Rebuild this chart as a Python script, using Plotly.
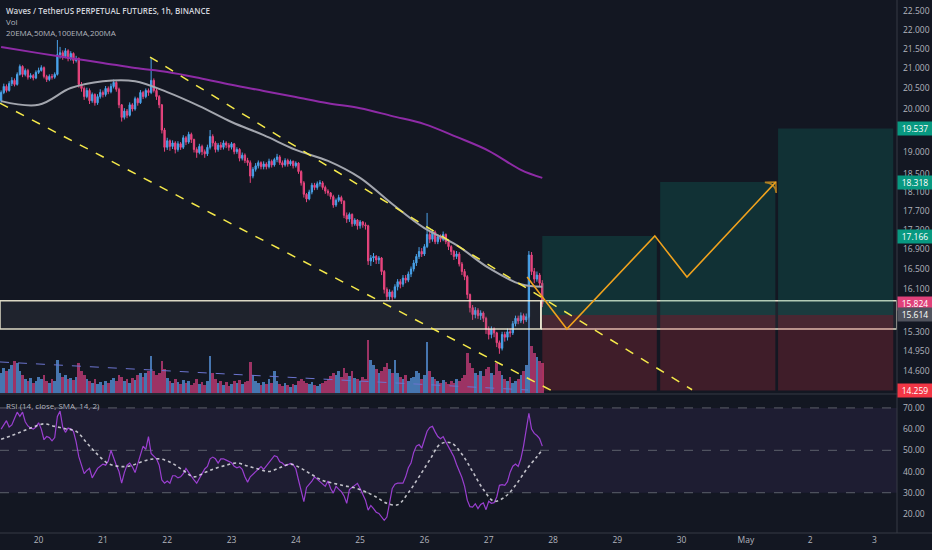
import math
import pandas as pd
import plotly.graph_objects as go

# ---- data (Waves/USDT perp, 1h) ----
start_time = "2021-04-19 10:00"
first_open = 20.20

closes = [
    20.40, 20.55, 20.45, 20.62, 20.70, 20.60, 20.85, 21.05, 20.85, 20.95,
    20.78, 20.82, 20.76, 20.90, 20.95, 21.02, 20.80, 20.72, 20.80, 20.78,
    20.85, 21.35, 21.40, 21.30, 21.45, 21.25, 21.38, 21.20, 21.25, 20.60,
    20.50, 20.30, 20.45, 20.20, 20.35, 20.15, 20.30, 20.40, 20.35, 20.50,
    20.42, 20.55, 20.65, 20.48, 20.10, 19.80, 19.95, 19.85, 20.10, 20.00,
    20.25, 20.15, 20.40, 20.30, 20.45, 20.40, 20.70, 20.45, 20.30, 20.10,
    19.50, 19.10, 19.25, 19.12, 19.20, 19.05, 19.18, 19.10, 19.32, 19.22,
    19.40, 19.28, 19.05, 18.98, 19.12, 19.00, 18.95, 19.10, 19.35, 19.20,
    19.05, 19.15, 19.10, 19.20, 19.15, 19.10, 19.18, 19.00, 19.05, 18.85,
    18.92, 18.80, 18.75, 18.45, 18.60, 18.68, 18.75, 18.66, 18.72, 18.66,
    18.78, 18.70, 18.82, 18.88, 18.75, 18.70, 18.80, 18.72, 18.78, 18.68,
    18.74, 18.55, 18.30, 18.05, 17.95, 18.10, 18.25, 18.20, 18.28, 18.30,
    18.20, 18.12, 18.08, 18.00, 17.82, 17.92, 17.98, 17.90, 17.60, 17.52,
    17.62, 17.42, 17.50, 17.38, 17.46, 17.40, 17.38, 16.66, 16.72, 16.75,
    16.68, 16.72, 16.45, 16.10, 15.96, 16.05, 15.95, 16.15, 16.25, 16.20,
    16.32, 16.28, 16.40, 16.50, 16.62, 16.75, 16.85, 16.80, 16.95, 17.20,
    17.10, 17.25, 17.05, 17.15, 17.10, 17.20, 17.05, 16.95, 16.85, 16.75,
    16.80, 16.60, 16.45, 16.35, 16.00, 15.75, 15.62, 15.70, 15.60, 15.65,
    15.55, 15.35, 15.25, 15.35, 15.28, 15.10, 15.00, 15.25, 15.20, 15.30,
    15.28, 15.45, 15.55, 15.50, 15.60, 15.52, 15.58, 16.78, 16.45, 16.30,
    16.38, 16.22, 15.824,
]
highs = [
    20.45, 20.62, 20.60, 20.68, 20.78, 20.75, 20.90, 21.10, 21.08, 21.00,
    20.99, 20.88, 20.86, 20.95, 21.02, 21.08, 21.05, 20.84, 20.85, 20.86,
    20.90, 21.73, 21.55, 21.46, 21.52, 21.49, 21.44, 21.41, 21.32, 21.28,
    20.66, 20.55, 20.52, 20.50, 20.40, 20.38, 20.36, 20.48, 20.45, 20.56,
    20.55, 20.62, 20.72, 20.68, 20.52, 20.12, 20.02, 20.00, 20.16, 20.14,
    20.30, 20.28, 20.46, 20.44, 20.50, 20.50, 21.27, 20.75, 20.50, 20.34,
    20.12, 19.55, 19.32, 19.28, 19.26, 19.24, 19.24, 19.22, 19.38, 19.36,
    19.46, 19.44, 19.30, 19.10, 19.18, 19.16, 19.05, 19.16, 19.50, 19.40,
    19.24, 19.20, 19.22, 19.26, 19.24, 19.20, 19.22, 19.20, 19.10, 19.08,
    18.98, 18.96, 18.86, 18.80, 18.65, 18.74, 18.80, 18.78, 18.78, 18.76,
    18.84, 18.82, 18.86, 18.95, 18.92, 18.80, 18.85, 18.84, 18.82, 18.80,
    18.78, 18.76, 18.58, 18.34, 18.08, 18.15, 18.30, 18.30, 18.33, 18.36,
    18.34, 18.24, 18.16, 18.10, 18.04, 17.96, 18.04, 18.02, 17.92, 17.66,
    17.66, 17.64, 17.54, 17.52, 17.50, 17.48, 17.45, 17.40, 16.78, 16.82,
    16.78, 16.76, 16.74, 16.48, 16.14, 16.10, 16.08, 16.20, 16.30, 16.30,
    16.38, 16.38, 16.45, 16.55, 16.68, 16.80, 16.94, 16.92, 17.00, 17.65,
    17.26, 17.30, 17.28, 17.20, 17.20, 17.26, 17.22, 17.08, 16.98, 16.88,
    16.86, 16.84, 16.64, 16.50, 16.38, 16.02, 15.80, 15.76, 15.74, 15.70,
    15.68, 15.58, 15.40, 15.40, 15.38, 15.30, 15.14, 15.30, 15.30, 15.36,
    15.36, 15.50, 15.60, 15.60, 15.66, 15.64, 15.64, 16.86, 16.84, 16.52,
    16.45, 16.42, 16.28,
]
lows = [
    20.15, 20.36, 20.40, 20.42, 20.56, 20.55, 20.57, 20.82, 20.78, 20.80,
    20.72, 20.74, 20.70, 20.73, 20.86, 20.92, 20.75, 20.66, 20.68, 20.72,
    20.74, 20.82, 21.25, 21.22, 21.26, 21.18, 21.20, 21.12, 21.15, 20.52,
    20.42, 20.22, 20.26, 20.12, 20.15, 20.08, 20.10, 20.25, 20.28, 20.30,
    20.36, 20.38, 20.50, 20.42, 20.02, 19.70, 19.75, 19.78, 19.82, 19.94,
    19.96, 20.08, 20.12, 20.24, 20.26, 20.32, 20.36, 20.40, 20.22, 20.02,
    19.42, 19.00, 19.04, 19.02, 19.06, 18.96, 19.00, 19.04, 19.06, 19.15,
    19.18, 19.20, 18.98, 18.86, 18.94, 18.92, 18.86, 18.90, 19.05, 19.12,
    18.98, 19.00, 19.04, 19.05, 19.08, 19.02, 19.05, 18.94, 18.95, 18.78,
    18.80, 18.74, 18.68, 18.30, 18.40, 18.55, 18.62, 18.60, 18.60, 18.60,
    18.62, 18.64, 18.66, 18.76, 18.70, 18.64, 18.66, 18.66, 18.68, 18.62,
    18.64, 18.50, 18.24, 17.98, 17.88, 17.92, 18.05, 18.14, 18.15, 18.22,
    18.15, 18.06, 18.02, 17.94, 17.76, 17.78, 17.88, 17.84, 17.54, 17.44,
    17.46, 17.36, 17.38, 17.30, 17.32, 17.34, 17.30, 16.58, 16.56, 16.64,
    16.60, 16.60, 16.38, 16.02, 15.88, 15.90, 15.88, 15.92, 16.08, 16.12,
    16.15, 16.22, 16.24, 16.34, 16.45, 16.56, 16.70, 16.74, 16.76, 16.92,
    17.02, 17.05, 17.00, 17.00, 17.04, 17.06, 17.00, 16.88, 16.78, 16.68,
    16.70, 16.55, 16.38, 16.28, 15.92, 15.66, 15.52, 15.55, 15.54, 15.52,
    15.48, 15.26, 15.16, 15.18, 15.20, 15.02, 14.90, 14.96, 15.12, 15.14,
    15.20, 15.24, 15.40, 15.44, 15.46, 15.45, 15.48, 15.55, 16.38, 16.22,
    16.25, 16.16, 15.76,
]
volumes = [
    20, 25, 22, 24, 28, 32, 30, 22, 18, 14,
    12, 15, 10, 12, 16, 14, 18, 12, 10, 14,
    12, 33, 20, 16, 18, 14, 15, 13, 16, 30,
    22, 18, 14, 12, 10, 14, 9, 11, 8, 12,
    10, 13, 15, 12, 18, 16, 12, 14, 10, 15,
    13, 18, 20, 16, 20, 22, 37, 22, 18, 20,
    32, 24, 15, 12, 10, 14, 11, 9, 13, 10,
    12, 8, 10, 14, 9, 11, 8, 12, 37, 20,
    14, 10, 12, 8, 11, 7, 9, 12, 10, 13,
    9, 11, 12, 31, 18, 12, 10, 8, 11, 9,
    14, 10, 22, 12, 9, 7, 10, 8, 6, 9,
    8, 12, 14, 12, 10, 9, 11, 8, 7, 9,
    10, 12, 14, 17, 20, 18, 22, 16, 25, 20,
    17, 22, 15, 14, 12, 16, 14, 53, 33, 28,
    24, 20, 22, 26, 30, 24, 20, 33, 20, 16,
    14, 18, 12, 15, 16, 22, 20, 14, 18, 51,
    22, 16, 14, 12, 10, 13, 11, 9, 12, 10,
    14, 12, 15, 18, 40, 30, 25, 20, 18, 22,
    17, 24, 26, 20, 18, 30, 22, 18, 14, 12,
    16, 10, 12, 14, 18, 22, 28, 90, 47, 40,
    36, 32, 30,
]
rsi = [
    60, 62, 64, 61, 62, 65, 68, 66, 68, 63.5,
    61.5, 60.5, 60, 61, 63, 60, 55, 56.5, 56, 54.5,
    56, 66, 68.5, 61, 58.5, 60.5, 60, 59, 54, 47,
    42.5, 39, 40.5, 41.5, 37, 39.5, 41.5, 42.5, 43.5, 43,
    45, 50, 46, 43, 40, 34.5, 39.5, 43, 44, 42.2,
    39.5, 44, 48.5, 52, 50.5, 56.5, 48.5, 47, 46, 43,
    36, 34.5, 35.5, 34.5, 38, 38, 37, 37.5, 39, 41.5,
    39.5, 37.7, 36, 34.5, 37, 39, 41.2, 42.4, 46, 46.8,
    46, 44, 46, 46, 45.4, 44.8, 44.2, 42.5, 41.8, 42.3,
    41, 37.5, 35, 37.5, 38.6, 40, 41.2, 42.3, 41, 42.5,
    44.5, 45.6, 47.5, 47, 44.6, 44, 42.7, 43.2, 43.8, 43.2,
    41.3, 36, 30.5, 25.8, 32.5, 33.8, 35.5, 37.5, 36.3, 35.2,
    34, 33, 35.5, 32, 29.8, 33, 31.7, 30.5, 28.5, 25,
    31.5, 32.5, 33.5, 34.4, 32, 29.5, 26.5, 21.8, 24, 22.5,
    20.8, 20.2, 18.3, 17, 18.5, 25, 32, 34, 34.5, 34.5,
    34.5, 37.5, 41.8, 44, 49, 52, 52.7, 51, 55.5, 59,
    60.8, 61.3, 58.7, 56.5, 55.5, 56.5, 54, 51.8, 49.3, 47,
    43.3, 40.5, 37.2, 33, 26.5, 23.4, 23.2, 24.8, 22.5, 24.5,
    25.2, 22, 26, 25, 25.3, 28, 33.5, 33.8, 33.5, 35.2,
    39.7, 42.5, 43.5, 42.4, 46, 52, 60, 67.5, 60, 58,
    57, 55.5, 52,
]
# RSI smoothing line, read every 4th bar plus the last bar
rsi_sma = [
    55.2, 57, 59, 61, 62.5, 61.3, 60.2, 59, 53.5, 48,
    43.8, 42.4, 42.6, 44.4, 45.8, 45.8, 43.8, 40.5, 37.5, 39.5,
    41.5, 43, 44, 42.6, 41.2, 40, 41.8, 43.5, 41.5, 38.5,
    35.8, 34.5, 33.3, 32.3, 30.5, 28, 25, 24.3, 30, 37.5,
    45.5, 53, 53.5, 48.2, 40, 31.5, 26, 28, 33.5, 40.8,
    47, 50.3,
]

ma_times = ["2021-04-19 10:00", "2021-04-20 00:00", "2021-04-20 12:00",
            "2021-04-21 00:00", "2021-04-21 12:00", "2021-04-22 00:00",
            "2021-04-22 12:00", "2021-04-23 00:00", "2021-04-23 12:00",
            "2021-04-24 00:00", "2021-04-24 12:00", "2021-04-25 00:00",
            "2021-04-25 12:00", "2021-04-26 00:00", "2021-04-26 12:00",
            "2021-04-27 00:00", "2021-04-27 12:00", "2021-04-27 20:00"]
ma_gray = [20.19, 20.10, 20.51, 20.68, 20.68, 20.41, 20.07, 19.69, 19.38,
           19.04, 18.79, 18.41, 17.84, 17.33, 16.98, 16.52, 16.20, 16.15]
ma_purple = [21.55, 21.39, 21.26, 21.14, 21.01, 20.91, 20.76, 20.59, 20.44,
             20.29, 20.14, 20.02, 19.83, 19.64, 19.34, 19.02, 18.59, 18.41]

# drawings
channel_top_times = ["2021-04-21 17:35", "2021-04-30 03:55"]
channel_top = [21.29, 14.27]
channel_bottom_times = ["2021-04-19 09:35", "2021-04-28 02:35"]
channel_bottom = [20.14, 14.18]
proj_times = ["2021-04-27 14:20", "2021-04-28 05:10", "2021-04-29 14:00",
              "2021-04-30 02:00", "2021-05-01 11:10"]
proj_prices = [16.34, 15.35, 17.17, 16.34, 18.32]
zone_times = ["2021-04-19 09:35", "2021-04-27 19:30", "2021-05-03 08:20"]
zone_low, zone_high = 15.35, 15.88
pos_starts = ["2021-04-27 20:00", "2021-04-29 16:00", "2021-05-01 12:00"]
pos_ends = ["2021-04-29 14:45", "2021-05-01 11:00", "2021-05-03 07:00"]
entry, stop = 15.614, 14.259
targets = [17.166, 18.318, 19.537]
vol_line_times = ["2021-04-19 09:35", "2021-04-27 14:40"]
vol_line = [31, 3]

badge_values = [19.537, 18.318, 17.166, 15.824, 15.614, 14.259]
badge_colors = ["#089981", "#089981", "#089981", "#e0417a", "#50535e", "#f23645"]
price_ticks = [14.6, 14.95, 15.3, 16.1, 16.5, 16.9, 17.3, 17.7, 18.1, 18.5,
               19.0, 20.0, 20.5, 21.0, 21.5, 22.0, 22.5]
rsi_ticks = [20, 30, 40, 50, 60, 70]
rsi_levels = [70, 50, 30]
day_ticks = ["2021-04-20", "2021-04-21", "2021-04-22", "2021-04-23", "2021-04-24",
             "2021-04-25", "2021-04-26", "2021-04-27", "2021-04-28", "2021-04-29",
             "2021-04-30", "2021-05-01", "2021-05-02", "2021-05-03"]
day_labels = ["20", "21", "22", "23", "24", "25", "26", "27", "28", "29", "30",
              "May", "2", "3"]

BG = "#131722"
TXT = "#b2b5be"
UP = "#4aa3ea"
DOWN = "#e8457e"
FONT = "Open Sans"

n = len(closes)
times = pd.date_range(start_time, periods=n, freq="h")
opens = [first_open] + closes[:-1]

fig = go.Figure()

# volume (own axis, drawn first so it sits behind the price pane)
vol_colors = ["#4676b0" if c >= o else "#9c3364" for o, c in zip(opens, closes)]
fig.add_trace(go.Bar(x=times, y=volumes, marker=dict(color=vol_colors, line=dict(width=0)),
                     xaxis="x", yaxis="y"))
fig.add_trace(go.Scatter(x=vol_line_times, y=vol_line, mode="lines",
                         line=dict(color="#6b74cf", width=1, dash="dash"),
                         xaxis="x", yaxis="y"))

# support zone
for t0, t1 in [(zone_times[0], zone_times[1]), (zone_times[1], zone_times[2])]:
    fig.add_trace(go.Scatter(x=[t0, t1, t1, t0, t0],
                             y=[zone_low, zone_low, zone_high, zone_high, zone_low],
                             mode="lines", fill="toself",
                             fillcolor="rgba(120,123,134,0.12)",
                             line=dict(color="rgba(255,250,225,0.85)", width=1.5),
                             xaxis="x", yaxis="y2"))

# long position boxes
for t0, t1, tp in zip(pos_starts, pos_ends, targets):
    fig.add_trace(go.Scatter(x=[t0, t1, t1, t0, t0], y=[entry, entry, tp, tp, entry],
                             mode="lines", fill="toself", fillcolor="rgba(8,153,129,0.2)",
                             line=dict(width=0), xaxis="x", yaxis="y2"))
    fig.add_trace(go.Scatter(x=[t0, t1, t1, t0, t0], y=[stop, stop, entry, entry, stop],
                             mode="lines", fill="toself", fillcolor="rgba(242,54,69,0.2)",
                             line=dict(width=0), xaxis="x", yaxis="y2"))

# moving averages
fig.add_trace(go.Scatter(x=ma_times, y=ma_purple, mode="lines", line_shape="spline",
                         line=dict(color="#8e2ba6", width=2), xaxis="x", yaxis="y2"))
fig.add_trace(go.Scatter(x=ma_times, y=ma_gray, mode="lines", line_shape="spline",
                         line=dict(color="#a3a6ae", width=2), xaxis="x", yaxis="y2"))

fig.add_trace(go.Candlestick(
    x=times, open=opens, high=highs, low=lows, close=closes,
    increasing=dict(line=dict(color=UP, width=1), fillcolor=UP),
    decreasing=dict(line=dict(color=DOWN, width=1), fillcolor=DOWN),
    whiskerwidth=0, xaxis="x", yaxis="y2"))

# channel lines
for tx, py in [(channel_top_times, channel_top), (channel_bottom_times, channel_bottom)]:
    fig.add_trace(go.Scatter(x=tx, y=py, mode="lines",
                             line=dict(color="#f5e94a", width=1.5, dash="dash"),
                             xaxis="x", yaxis="y2"))

# projected path
fig.add_trace(go.Scatter(
    x=proj_times, y=proj_prices, mode="lines+markers",
    line=dict(color="#f0a21d", width=1.6),
    marker=dict(symbol="arrow-wide-open", angleref="previous",
                size=[0] * (len(proj_prices) - 1) + [11],
                color="#f0a21d", line=dict(color="#f0a21d", width=1.6)),
    xaxis="x", yaxis="y2"))

# RSI pane
fig.add_trace(go.Scatter(x=times, y=rsi, mode="lines",
                         line=dict(color="#9a3fd0", width=1.2), xaxis="x", yaxis="y3"))
sma_idx = list(range(0, n, 4)) + [n - 1]
fig.add_trace(go.Scatter(x=[times[i] for i in sma_idx], y=rsi_sma, mode="lines",
                         line_shape="spline",
                         line=dict(color="rgba(235,235,240,0.8)", width=1.6, dash="dot"),
                         xaxis="x", yaxis="y3"))

shapes = [
    dict(type="rect", xref="paper", yref="y3", x0=0, x1=1, y0=rsi_levels[2], y1=rsi_levels[0],
         fillcolor="rgba(126,87,194,0.1)", line=dict(width=0), layer="below"),
]
for lv in rsi_levels:
    shapes.append(dict(type="line", xref="paper", yref="y3", x0=0, x1=1, y0=lv, y1=lv,
                       line=dict(color="#5d606b", width=1, dash="dash"), layer="below"))
# pane borders
shapes += [
    dict(type="line", xref="paper", yref="paper", x0=0, x1=1.04, y0=0.2608, y1=0.2608,
         line=dict(color="#363a45", width=1)),
    dict(type="line", xref="paper", yref="paper", x0=0, x1=1.04, y0=0, y1=0,
         line=dict(color="#363a45", width=1)),
    dict(type="line", xref="paper", yref="paper", x0=1, x1=1, y0=0, y1=1,
         line=dict(color="#363a45", width=1)),
]

annotations = [
    dict(text="Waves / TetherUS PERPETUAL FUTURES, 1h, BINANCE", xref="paper", yref="paper",
         x=0, y=1, xanchor="left", yanchor="top", xshift=4, yshift=-3, showarrow=False,
         font=dict(family=FONT, size=8, color="#d1d4dc", weight=600)),
    dict(text="Vol", xref="paper", yref="paper", x=0, y=1, xanchor="left", yanchor="top",
         xshift=4, yshift=-14, showarrow=False, font=dict(family=FONT, size=8, color=TXT)),
    dict(text="20EMA,50MA,100EMA,200MA", xref="paper", yref="paper", x=0, y=1,
         xanchor="left", yanchor="top", xshift=4, yshift=-25, showarrow=False,
         font=dict(family=FONT, size=8, color=TXT)),
    dict(text="RSI (14, close, SMA, 14, 2)", xref="paper", yref="paper", x=0, y=0.2589,
         xanchor="left", yanchor="top", xshift=4, yshift=-3, showarrow=False,
         font=dict(family=FONT, size=8, color=TXT)),
]
for v, c in zip(badge_values, badge_colors):
    annotations.append(dict(text=f"{v:.3f}", xref="paper", yref="y2", x=1, y=math.log10(v),
                            xanchor="left", yanchor="middle", showarrow=False, bgcolor=c,
                            width=32, height=11, borderpad=1,
                            font=dict(family=FONT, size=8.5, color="#ffffff")))

fig.update_layout(
    width=932, height=550,
    margin=dict(l=0, r=35, t=0, b=17),
    paper_bgcolor=BG, plot_bgcolor="rgba(0,0,0,0)",
    showlegend=False, bargap=0,
    font=dict(family=FONT, size=8.5, color=TXT),
    shapes=shapes, annotations=annotations,
    xaxis=dict(domain=[0, 1], anchor="y3", type="date",
               range=["2021-04-19 09:35", "2021-05-03 08:24"],
               tickvals=day_ticks, ticktext=day_labels, showgrid=False, zeroline=False,
               ticks="", showline=False, rangeslider=dict(visible=False),
               tickfont=dict(family=FONT, size=8.5, color=TXT)),
    yaxis=dict(domain=[0.2627, 0.55], anchor="x", range=[0, 153], visible=False),
    yaxis2=dict(domain=[0.2627, 1], anchor="x", type="log", side="right",
                range=[1.15273, 1.35795], tickvals=price_ticks,
                ticktext=[f"{t:.3f}" for t in price_ticks], showgrid=False,
                zeroline=False, ticks="", ticklabelstandoff=5,
                tickfont=dict(family=FONT, size=8.5, color=TXT)),
    yaxis3=dict(domain=[0, 0.2589], anchor="x", side="right", range=[11, 76.1],
                tickvals=rsi_ticks, ticktext=[f"{t:.2f}" for t in rsi_ticks],
                showgrid=False, zeroline=False, ticks="", ticklabelstandoff=5,
                tickfont=dict(family=FONT, size=8.5, color=TXT)),
)

fig.write_html("out.html", config={"displayModeBar": False},
               post_script="document.body.style.margin='0';")
